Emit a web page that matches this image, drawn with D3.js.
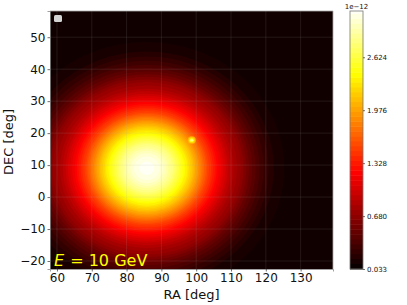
<!DOCTYPE html>
<html>
<head>
<meta charset="utf-8">
<script src="https://cdn.jsdelivr.net/npm/d3@7"></script>
<style>
html, body { margin: 0; padding: 0; background: #fff; }
svg { display: block; font-family: "DejaVu Sans", sans-serif; }
</style>
</head>
<body>
<script>
// contour levels (units of 1e-12) and their radius in degrees around the peak
var levelValues = [0.10, 0.16, 0.22, 0.28, 0.34, 0.40, 0.46, 0.52, 0.58, 0.64, 0.70, 0.76, 0.82, 0.88, 0.94, 1.00, 1.06, 1.12, 1.18, 1.24, 1.30, 1.36, 1.42, 1.48, 1.54, 1.60, 1.66, 1.72, 1.78, 1.84, 1.90, 1.96, 2.02, 2.08, 2.14, 2.20, 2.26, 2.32, 2.38, 2.44, 2.50, 2.56, 2.62, 2.68, 2.74, 2.80, 2.86, 2.92, 2.98, 3.04, 3.10, 3.16];
var levelRadii = [39.5, 36.5, 35, 33.6, 32.4, 31.3, 30.3, 29.4, 28.6, 27.8, 27, 25.9, 24.9, 24.1, 23.3, 22.7, 22, 21.4, 20.7, 20.1, 19.6, 19, 18.5, 17.9, 17.4, 17, 16.5, 16.1, 15.7, 15.2, 14.8, 14.4, 13.9, 13.5, 13.1, 12.6, 12.1, 11.7, 11.1, 10.7, 10.2, 9.7, 9.2, 8.6, 8.1, 7.6, 6.9, 6.2, 5.5, 4.7, 3.7, 2.1];
var peak = [85.8, 9];

// the small source up and to the right of the peak
var spot = [98.7, 17.8];
var spotValues = [2.0, 2.2, 2.45, 2.75, 3.0];
var spotRadii = [1.2, 0.9, 0.6, 0.4, 0.2];

var xTicks = [60, 70, 80, 90, 100, 110, 120, 130];
var yTicks = [-20, -10, 0, 10, 20, 30, 40, 50];
var barTicks = [0.033, 0.680, 1.328, 1.976, 2.624];

var hotStops = [0, 0.365, 0.746, 1];
var hotColors = ["#0b0000", "#ff0000", "#ffff00", "#ffffff"];

var barMin = 0.033, barMax = 3.19;

var svg = d3.select("body").append("svg").attr("width", 407).attr("height", 305);

var x = d3.scaleLinear().domain([58, 139.3]).range([50, 333]);
var y = d3.scaleLinear().domain([-22.5, 58.2]).range([269, 11]);
var barY = d3.scaleLinear().domain([barMin, barMax]).range([269, 11]);

var hot = d3.scaleLinear().domain(hotStops).range(hotColors);
function color(v) {
    return hot((v - barMin) / (barMax - barMin));
}

svg.append("clipPath").attr("id", "plot")
    .append("rect")
    .attr("x", x.range()[0]).attr("y", y.range()[1])
    .attr("width", x.range()[1] - x.range()[0])
    .attr("height", y.range()[0] - y.range()[1]);

var plot = svg.append("g").attr("clip-path", "url(#plot)");

plot.append("rect")
    .attr("x", x.range()[0]).attr("y", y.range()[1])
    .attr("width", x.range()[1] - x.range()[0])
    .attr("height", y.range()[0] - y.range()[1])
    .attr("fill", color(0.06));

plot.selectAll("ellipse.level")
    .data(levelValues)
    .enter()
    .append("ellipse")
    .attr("class", "level")
    .attr("cx", x(peak[0]))
    .attr("cy", y(peak[1]))
    .attr("rx", function (d, i) { return x(peak[0] + levelRadii[i]) - x(peak[0]); })
    .attr("ry", function (d, i) { return y(peak[1]) - y(peak[1] + levelRadii[i]); })
    .attr("fill", color);

plot.selectAll("ellipse.spot")
    .data(spotValues)
    .enter()
    .append("ellipse")
    .attr("class", "spot")
    .attr("cx", x(spot[0]))
    .attr("cy", y(spot[1]))
    .attr("rx", function (d, i) { return x(spot[0] + spotRadii[i]) - x(spot[0]); })
    .attr("ry", function (d, i) { return y(spot[1]) - y(spot[1] + spotRadii[i]); })
    .attr("fill", color);

// grid
plot.selectAll("line.gx")
    .data(xTicks)
    .enter()
    .append("line")
    .attr("x1", x).attr("x2", x)
    .attr("y1", y.range()[0]).attr("y2", y.range()[1])
    .attr("stroke", "#b0b0b0").attr("stroke-opacity", 0.17).attr("stroke-width", 0.8);

plot.selectAll("line.gy")
    .data(yTicks)
    .enter()
    .append("line")
    .attr("y1", y).attr("y2", y)
    .attr("x1", x.range()[0]).attr("x2", x.range()[1])
    .attr("stroke", "#b0b0b0").attr("stroke-opacity", 0.17).attr("stroke-width", 0.8);

// empty legend box
plot.append("rect")
    .attr("x", 54).attr("y", 15).attr("width", 8).attr("height", 7).attr("rx", 1.5)
    .attr("fill", "#d4d4d4");

var minus = function (d) { return String(d).replace("-", "\u2212"); };

var xAxis = svg.append("g")
    .attr("transform", "translate(0," + y.range()[0] + ")")
    .call(d3.axisBottom(x).tickValues(xTicks).tickFormat(minus).tickSize(2.5).tickPadding(2));
var yAxis = svg.append("g")
    .attr("transform", "translate(" + x.range()[0] + ",0)")
    .call(d3.axisLeft(y).tickValues(yTicks).tickFormat(minus).tickSize(2.5).tickPadding(2));

[xAxis, yAxis].forEach(function (a) {
    a.selectAll("text").attr("font-size", 12).attr("font-family", "DejaVu Sans").attr("fill", "#111");
    a.selectAll("line").attr("stroke", "#333").attr("stroke-width", 0.7);
    a.select(".domain").attr("stroke", "#888").attr("stroke-width", 0.8);
});

// top and right frame
svg.append("path")
    .attr("d", "M" + x.range()[0] + "," + y.range()[1] + "H" + x.range()[1] + "V" + y.range()[0])
    .attr("fill", "none").attr("stroke", "#aaa").attr("stroke-width", 0.8);

svg.append("text")
    .attr("x", 191.5).attr("y", 299)
    .attr("text-anchor", "middle").attr("font-size", 13).attr("fill", "#111")
    .text("RA [deg]");

svg.append("text")
    .attr("transform", "translate(13,142) rotate(-90)")
    .attr("text-anchor", "middle").attr("font-size", 13).attr("fill", "#111")
    .text("DEC [deg]");

var label = svg.append("text")
    .attr("x", 54).attr("y", 266)
    .attr("font-size", 16).attr("fill", "#ffff00");
label.append("tspan").attr("font-style", "italic").text("E");
label.append("tspan").attr("dx", 1).text(" = 10 GeV");

// colorbar
var barX = 350, barW = 13;
var barEdges = [barMin].concat(levelValues);

svg.selectAll("rect.band")
    .data(barEdges)
    .enter()
    .append("rect")
    .attr("class", "band")
    .attr("x", barX)
    .attr("width", barW)
    .attr("y", function (d, i) {
        return barY(i + 1 < barEdges.length ? barEdges[i + 1] : barMax);
    })
    .attr("height", function (d, i) {
        return barY(d) - barY(i + 1 < barEdges.length ? barEdges[i + 1] : barMax) + 0.5;
    })
    .attr("fill", color);

svg.append("rect")
    .attr("x", barX).attr("y", barY.range()[1])
    .attr("width", barW).attr("height", barY.range()[0] - barY.range()[1])
    .attr("fill", "none").attr("stroke", "#777").attr("stroke-width", 0.8);

var barAxis = svg.append("g")
    .attr("transform", "translate(" + (barX + barW) + ",0)")
    .call(d3.axisRight(barY).tickValues(barTicks).tickFormat(d3.format(".3f")).tickSize(2).tickPadding(2));
barAxis.select(".domain").remove();
barAxis.selectAll("text").attr("font-size", 7).attr("font-family", "DejaVu Sans").attr("fill", "#111");
barAxis.selectAll("line").attr("stroke", "#333").attr("stroke-width", 0.7);

svg.append("text")
    .attr("x", 356.5).attr("y", 9)
    .attr("text-anchor", "middle").attr("font-size", 7).attr("fill", "#111")
    .text("1e\u221212");
</script>
</body>
</html>
